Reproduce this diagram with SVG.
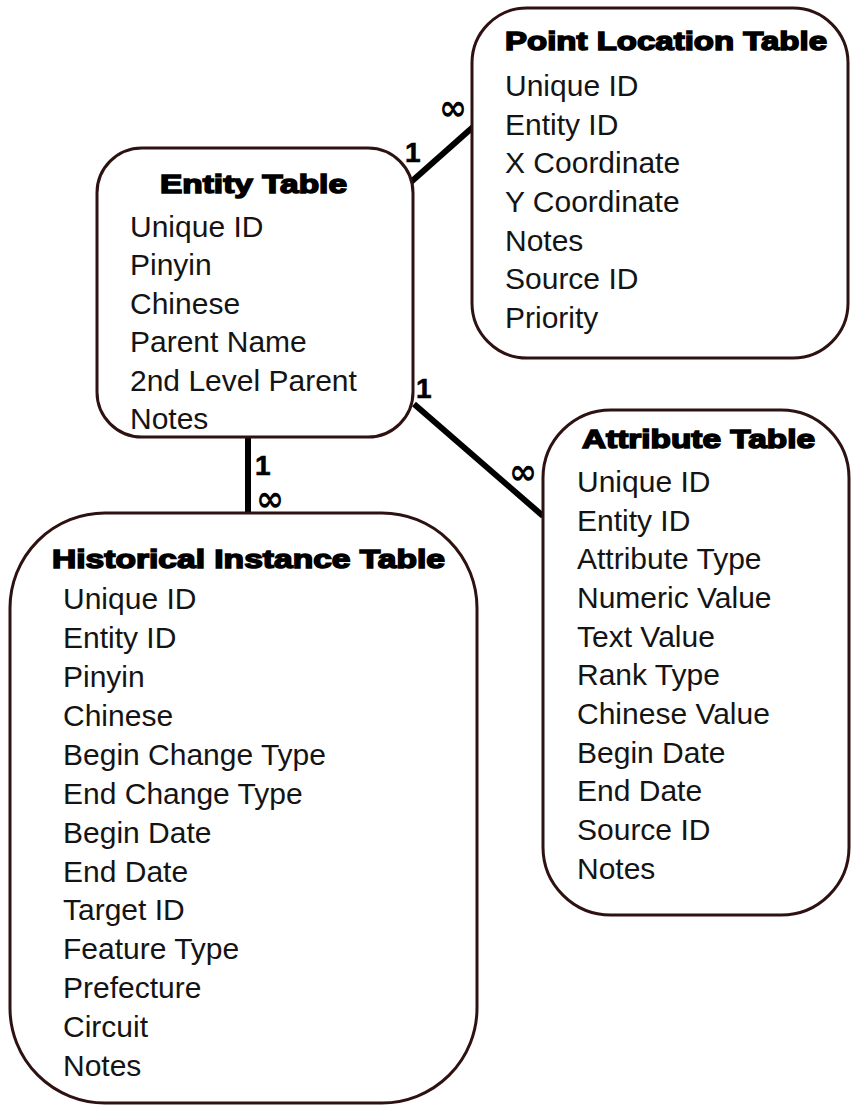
<svg xmlns="http://www.w3.org/2000/svg" width="851" height="1107" viewBox="0 0 851 1107">
  <style>
    .box { fill: #ffffff; stroke: #2e1212; stroke-width: 3; }
    .title { font-family: "Liberation Sans", Arial, sans-serif; font-weight: bold; font-size: 26px; fill: #000; stroke: #000; stroke-width: 1.5; }
    .row { font-family: "Liberation Sans", Arial, sans-serif; font-size: 30px; fill: #141414; }
    .link { stroke: #000; stroke-width: 6; fill: none; }
    .one { font-family: "Liberation Sans", Arial, sans-serif; font-weight: bold; font-size: 28px; fill: #000; stroke: #000; stroke-width: 0.6; }
    .many { font-family: "DejaVu Sans", sans-serif; font-weight: bold; font-size: 36px; fill: #000; }
  </style>
  <rect width="851" height="1107" fill="#ffffff"/>

  <!-- relationship lines with cardinality marks -->
  <g id="connectors">
    <line class="link" x1="411" y1="182" x2="473" y2="127"/>
    <line class="link" x1="414" y1="404" x2="543" y2="516"/>
    <line class="link" x1="248" y1="437" x2="248" y2="513"/>
    <text class="one" x="405" y="162">1</text>
    <text class="many" x="439" y="120" textLength="28" lengthAdjust="spacingAndGlyphs">∞</text>
    <text class="one" x="416" y="398">1</text>
    <text class="many" x="509" y="484" textLength="28" lengthAdjust="spacingAndGlyphs">∞</text>
    <text class="one" x="255" y="475">1</text>
    <text class="many" x="256" y="511" textLength="28" lengthAdjust="spacingAndGlyphs">∞</text>
  </g>

  <g id="point-location-table">
    <rect class="box" x="472" y="8" width="376" height="350" rx="55" ry="55"/>
    <text class="title" x="505" y="50" textLength="322" lengthAdjust="spacingAndGlyphs">Point Location Table</text>
    <text class="row" x="505" y="96">Unique ID</text>
    <text class="row" x="505" y="135">Entity ID</text>
    <text class="row" x="505" y="173">X Coordinate</text>
    <text class="row" x="505" y="212">Y Coordinate</text>
    <text class="row" x="505" y="251">Notes</text>
    <text class="row" x="505" y="289">Source ID</text>
    <text class="row" x="505" y="328">Priority</text>
  </g>

  <g id="entity-table">
    <rect class="box" x="97" y="148" width="316" height="289" rx="45" ry="45"/>
    <text class="title" x="160" y="193" textLength="187" lengthAdjust="spacingAndGlyphs">Entity Table</text>
    <text class="row" x="130" y="237">Unique ID</text>
    <text class="row" x="130" y="275">Pinyin</text>
    <text class="row" x="130" y="314">Chinese</text>
    <text class="row" x="130" y="352">Parent Name</text>
    <text class="row" x="130" y="391">2nd Level Parent</text>
    <text class="row" x="130" y="429">Notes</text>
  </g>

  <g id="attribute-table">
    <rect class="box" x="543" y="410" width="306" height="505" rx="68" ry="68"/>
    <text class="title" x="582" y="448" textLength="233" lengthAdjust="spacingAndGlyphs">Attribute Table</text>
    <text class="row" x="577" y="492">Unique ID</text>
    <text class="row" x="577" y="531">Entity ID</text>
    <text class="row" x="577" y="569">Attribute Type</text>
    <text class="row" x="577" y="608">Numeric Value</text>
    <text class="row" x="577" y="647">Text Value</text>
    <text class="row" x="577" y="685">Rank Type</text>
    <text class="row" x="577" y="724">Chinese Value</text>
    <text class="row" x="577" y="763">Begin Date</text>
    <text class="row" x="577" y="801">End Date</text>
    <text class="row" x="577" y="840">Source ID</text>
    <text class="row" x="577" y="879">Notes</text>
  </g>

  <g id="historical-instance-table">
    <rect class="box" x="10" y="513" width="467" height="590" rx="95" ry="95"/>
    <text class="title" x="52" y="568" textLength="393" lengthAdjust="spacingAndGlyphs">Historical Instance Table</text>
    <text class="row" x="63" y="609">Unique ID</text>
    <text class="row" x="63" y="648">Entity ID</text>
    <text class="row" x="63" y="687">Pinyin</text>
    <text class="row" x="63" y="726">Chinese</text>
    <text class="row" x="63" y="765">Begin Change Type</text>
    <text class="row" x="63" y="804">End Change Type</text>
    <text class="row" x="63" y="843">Begin Date</text>
    <text class="row" x="63" y="882">End Date</text>
    <text class="row" x="63" y="920">Target ID</text>
    <text class="row" x="63" y="959">Feature Type</text>
    <text class="row" x="63" y="998">Prefecture</text>
    <text class="row" x="63" y="1037">Circuit</text>
    <text class="row" x="63" y="1076">Notes</text>
  </g>
</svg>
